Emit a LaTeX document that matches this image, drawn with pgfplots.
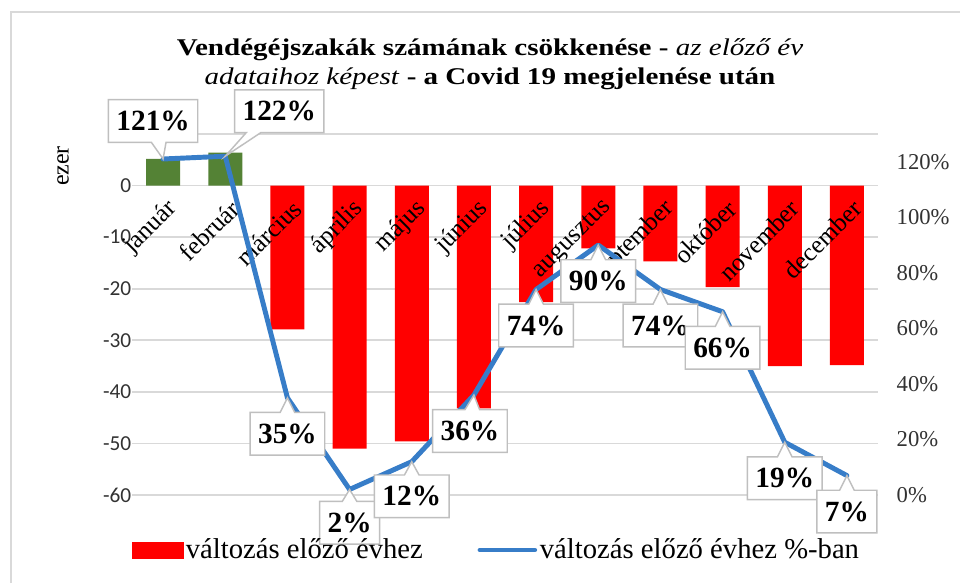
\documentclass[border=0pt]{standalone}
\usepackage{fontspec}
\setmainfont{Liberation Serif}
\newfontfamily\titlefont{Liberation Serif}[FakeStretch=1.21]
\newfontfamily\calibri{Carlito}
\usepackage{pgfplots}
\pgfplotsset{compat=1.18}
\usetikzlibrary{shapes.callouts,calc}
\definecolor{barred}{RGB}{255,0,0}
\definecolor{bargreen}{RGB}{84,130,53}
\definecolor{lineblue}{RGB}{55,125,200}
\definecolor{gridgray}{RGB}{217,217,217}
\definecolor{boxgray}{RGB}{191,191,191}
\definecolor{ticktxt}{RGB}{50,50,50}
\pgfplotsset{geom/.style={at={(99pt,66pt)}, anchor=south west, width=559.5pt, height=270.75pt,
  scale only axis, xmin=-0.5, xmax=11.5, clip=false, major tick length=0pt}}
\tikzset{dl/.style={rectangle callout, draw=boxgray, line width=1.1pt, fill=white,
  font=\bfseries\fontsize{22}{24}\selectfont, inner xsep=6pt, inner ysep=0pt,
  minimum height=32pt, callout pointer width=11pt}}
\newcommand\dl[4]{\node[dl, callout absolute pointer={(axis cs:#1,#2)}] at ($(axis cs:#1,#2)+(#3)$) {#4};}
\begin{document}
\begin{tikzpicture}
\useasboundingbox (0,0) rectangle (720pt,437.25pt);
\draw[gridgray, line width=1.5pt] (7.9pt,0) -- (7.9pt,428.25pt) -- (720pt,428.25pt);
\node[anchor=base, font=\titlefont\fontsize{18}{20}\selectfont] at (367.5pt,395.25pt)
  {\textbf{Vendégéjszakák számának csökkenése -} \textit{az előző év}};
\node[anchor=base, font=\titlefont\fontsize{18}{20}\selectfont] at (367.5pt,373.5pt)
  {\textit{adataihoz képest} \textbf{- a Covid 19 megjelenése után}};
\node[rotate=90, font=\fontsize{18}{20}\selectfont] at (47.25pt,312.75pt) {ezer};

% bars, grid, left ticks
\begin{axis}[geom, ymin=-60, ymax=10,
  ytick={-60,-50,-40,-30,-20,-10,0,10},
  yticklabels={-60,-50,-40,-30,-20,-10,0,10},
  xtick=\empty, axis x line*=bottom, axis y line*=left, axis line style={draw=none},
  ymajorgrids, grid style={gridgray, line width=1.2pt},
  yticklabel style={font=\calibri\fontsize{16}{18}\selectfont, text=ticktxt, xshift=3pt}]
\addplot[ybar, bar width=25.5pt, bar shift=0pt, fill=bargreen, draw=none]
  coordinates {(0,5.2) (1,6.4)};
\addplot[ybar, bar width=25.5pt, bar shift=0pt, fill=barred, draw=none]
  coordinates {(2,-27.9) (3,-51.0) (4,-49.6) (5,-43.2) (6,-22.6) (7,-12.2)
               (8,-14.7) (9,-19.7) (10,-35.0) (11,-34.8)};
\end{axis}

% category labels on the zero line, above the bars
\begin{axis}[geom, ymin=-60, ymax=10,
  xtick={0,...,11},
  xticklabels={január,február,március,április,május,június,július,augusztus,szeptember,október,november,december},
  axis x line*=middle, axis y line=none, axis line style={draw=none}, ytick=\empty,
  xticklabel style={xshift=10pt, yshift=-12pt, rotate=45, anchor=east, font=\fontsize{19}{21}\selectfont}]
\end{axis}

% percentage line, right axis, callouts, legend
\begin{axis}[geom, ymin=0, ymax=130,
  axis x line=none, axis y line*=right, axis line style={draw=none},
  ytick={0,20,40,60,80,100,120},
  yticklabels={0\%,20\%,40\%,60\%,80\%,100\%,120\%},
  yticklabel style={font=\fontsize{17}{19}\selectfont, text=ticktxt, xshift=10.5pt},
  legend columns=2,
  legend style={draw=none, fill=none, at={(0.489,0)}, anchor=center, yshift=-41.25pt,
    font=\fontsize{21.5}{24}\selectfont,
    /tikz/every even column/.append style={column sep=39pt}}]
\addlegendimage{legend image code/.code={\fill[barred] (0pt,-6pt) rectangle (38pt,6pt);}}
\addlegendentry{változás előző évhez}
\addplot[lineblue, line width=3.7pt, line join=round, line cap=round,
  legend image code/.code={\draw[lineblue, line width=3.7pt] (0pt,0pt) -- (41pt,0pt);}]
  coordinates {(0,121) (1,122) (2,35) (3,2) (4,12) (5,36) (6,74) (7,90) (8,74) (9,66) (10,19) (11,7)};
\addlegendentry{változás előző évhez \%-ban}
\dl{0}{121}{-7.5pt,28.5pt}{121\%}
\dl{1}{122}{40.5pt,33.75pt}{122\%}
\dl{2}{35}{0pt,-27pt}{35\%}
\dl{3}{2}{0pt,-25pt}{2\%}
\dl{4}{12}{0pt,-26pt}{12\%}
\dl{5}{36}{-3pt,-27pt}{36\%}
\dl{6}{74}{0pt,-27pt}{74\%}
\dl{7}{90}{0pt,-27pt}{90\%}
\dl{8}{74}{0pt,-27pt}{74\%}
\dl{9}{66}{0pt,-27pt}{66\%}
\dl{10}{19}{0pt,-27pt}{19\%}
\dl{11}{7}{0pt,-27pt}{7\%}
\end{axis}
\end{tikzpicture}
\end{document}
